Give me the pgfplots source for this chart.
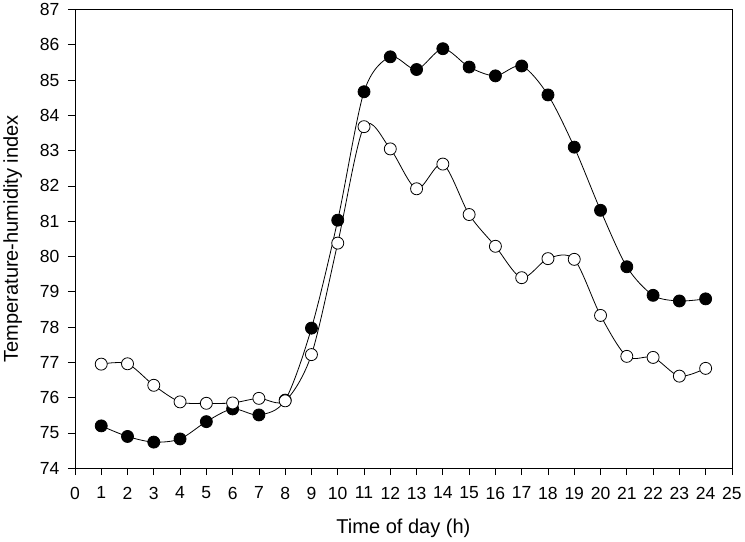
\documentclass[border=0pt]{standalone}
\usepackage{pgfplots}
\pgfplotsset{compat=1.18}
\usepackage{fontspec}
\setmainfont{Liberation Sans}
\begin{document}
\begin{tikzpicture}
 \begin{axis}[scale only axis,width=656pt,height=458pt,
  xmin=0,xmax=25,ymin=74,ymax=87,
  xtick={0,...,25},ytick={74,...,87},
  tick align=outside,major tick length=7pt,
  xtick pos=bottom,ytick pos=left,
  tick style={black,line width=0.8pt},
  axis line style={line width=0.8pt},
  ticklabel style={font=\fontsize{17.5}{19}\selectfont},
  xticklabel style={yshift=-8pt},
  yticklabel style={xshift=-5pt},
  /pgf/number format/assume math mode=true,
  xlabel={Time of day (h)},ylabel={Temperature-humidity index},
  label style={font=\fontsize{20}{22}\selectfont},
  xlabel style={yshift=-13pt},
  ylabel style={yshift=11pt}]
  % filled circles
  \addplot[black,line width=0.8pt,smooth,mark=*,mark size=6pt,
   mark options={fill=black}] coordinates {
   (1,75.20)(2,74.90)(3,74.74)(4,74.83)(5,75.32)(6,75.68)(7,75.51)(8,75.93)
   (9,77.97)(10,81.03)(11,84.67)(12,85.66)(13,85.30)(14,85.89)(15,85.37)(16,85.12)
   (17,85.40)(18,84.58)(19,83.10)(20,81.31)(21,79.71)(22,78.90)(23,78.74)(24,78.80)};
  % open circles
  \addplot[black,line width=0.8pt,smooth,mark=*,mark size=6pt,
   mark options={fill=white}] coordinates {
   (1,76.95)(2,76.96)(3,76.35)(4,75.88)(5,75.84)(6,75.85)(7,75.98)(8,75.91)
   (9,77.22)(10,80.38)(11,83.68)(12,83.05)(13,81.92)(14,82.62)(15,81.19)(16,80.29)
   (17,79.40)(18,79.94)(19,79.92)(20,78.33)(21,77.17)(22,77.14)(23,76.61)(24,76.83)};
 \end{axis}
\end{tikzpicture}
\end{document}
